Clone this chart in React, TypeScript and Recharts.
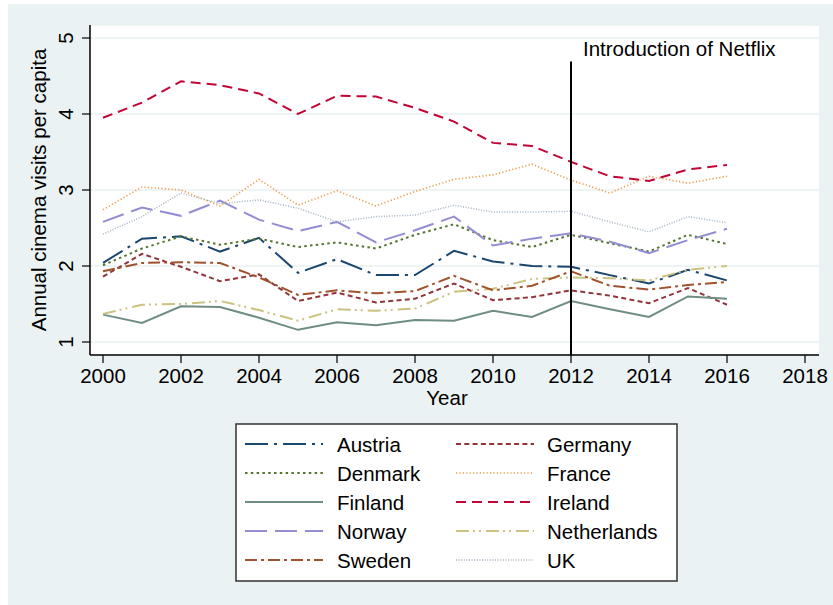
import { CartesianGrid, Line, LineChart, ReferenceLine, XAxis, YAxis } from 'recharts';

const years = [2000, 2001, 2002, 2003, 2004, 2005, 2006, 2007, 2008, 2009, 2010, 2011, 2012, 2013, 2014, 2015, 2016];
const xTicks = [2000, 2002, 2004, 2006, 2008, 2010, 2012, 2014, 2016, 2018];
const yTicks = [1, 2, 3, 4, 5];

const austria = [2.04, 2.36, 2.39, 2.19, 2.37, 1.91, 2.09, 1.88, 1.88, 2.2, 2.06, 2.0, 1.99, 1.88, 1.77, 1.95, 1.81];
const germany = [1.86, 2.16, 1.99, 1.8, 1.89, 1.54, 1.65, 1.52, 1.57, 1.77, 1.55, 1.59, 1.68, 1.61, 1.51, 1.71, 1.49];
const denmark = [2.01, 2.23, 2.39, 2.28, 2.36, 2.25, 2.31, 2.23, 2.41, 2.55, 2.34, 2.25, 2.41, 2.3, 2.19, 2.41, 2.29];
const france = [2.74, 3.04, 3.0, 2.79, 3.14, 2.8, 2.99, 2.79, 2.98, 3.14, 3.2, 3.34, 3.13, 2.96, 3.18, 3.09, 3.18];
const finland = [1.36, 1.25, 1.47, 1.46, 1.32, 1.16, 1.26, 1.22, 1.29, 1.28, 1.41, 1.33, 1.54, 1.43, 1.33, 1.6, 1.57];
const ireland = [3.95, 4.15, 4.43, 4.38, 4.27, 4.0, 4.24, 4.23, 4.08, 3.9, 3.62, 3.58, 3.37, 3.18, 3.12, 3.27, 3.33];
const norway = [2.58, 2.77, 2.66, 2.86, 2.61, 2.46, 2.58, 2.31, 2.47, 2.65, 2.27, 2.36, 2.43, 2.32, 2.17, 2.34, 2.49];
const netherlands = [1.37, 1.49, 1.5, 1.54, 1.42, 1.28, 1.43, 1.41, 1.44, 1.66, 1.7, 1.83, 1.85, 1.84, 1.81, 1.95, 2.0];
const sweden = [1.93, 2.04, 2.05, 2.04, 1.85, 1.62, 1.68, 1.64, 1.67, 1.87, 1.68, 1.74, 1.93, 1.74, 1.69, 1.75, 1.79];
const uk = [2.42, 2.65, 2.96, 2.82, 2.87, 2.76, 2.58, 2.65, 2.67, 2.8, 2.71, 2.71, 2.72, 2.58, 2.45, 2.65, 2.57];

const netflixYear = 2012;

// legend order is row by row: left column, right column
const series = [
  { name: 'Austria', values: austria, color: '#1a476f', dash: '23 6 3 6', width: 2 },
  { name: 'Germany', values: germany, color: '#90353b', dash: '5 3.3', width: 2 },
  { name: 'Denmark', values: denmark, color: '#55752f', dash: '2.5 3.3', width: 2 },
  { name: 'France', values: france, color: '#ee9a40', dash: '1.2 2.2', width: 1.6 },
  { name: 'Finland', values: finland, color: '#6e8e84', dash: undefined, width: 2 },
  { name: 'Ireland', values: ireland, color: '#c10534', dash: '10 6', width: 2 },
  { name: 'Norway', values: norway, color: '#938dd2', dash: '22 8', width: 2 },
  { name: 'Netherlands', values: netherlands, color: '#cac27e', dash: '13 4 2 4 2 5', width: 2 },
  { name: 'Sweden', values: sweden, color: '#a0522d', dash: '12 4 3 4', width: 2 },
  { name: 'UK', values: uk, color: '#a3b3c4', dash: '1 1.6', width: 1.5 },
];

const data = years.map((year, i) => {
  const row: Record<string, number> = { year };
  series.forEach((s) => {
    row[s.name] = s.values[i];
  });
  return row;
});

const font = '"Liberation Sans", Arial, Helvetica, sans-serif';
const fontSize = 20.5;

const XTick = (props: any) => {
  const { x, y, payload } = props;
  return (
    <text x={x} y={y} dy={18} textAnchor="middle" fontFamily={font} fontSize={fontSize} fill="#000">
      {payload.value}
    </text>
  );
};

const YTick = (props: any) => {
  const { x, y, payload } = props;
  const bx = x - 7;
  return (
    <text
      x={bx}
      y={y}
      textAnchor="middle"
      transform={`rotate(-90, ${bx}, ${y})`}
      fontFamily={font}
      fontSize={fontSize}
      fill="#000"
    >
      {payload.value}
    </text>
  );
};

const Overlay = () => {
  const boxX = 236;
  const boxY = 424;
  const rowY = [444, 473, 502, 531, 560];
  const swatchX = [245, 456];
  const textX = [337, 547];
  return (
    <svg
      width={833}
      height={605}
      style={{ position: 'absolute', left: 0, top: 0, pointerEvents: 'none' }}
    >
      <text
        x={46}
        y={190}
        textAnchor="middle"
        transform="rotate(-90, 46, 190)"
        fontFamily={font}
        fontSize={fontSize}
        fill="#000"
      >
        Annual cinema visits per capita
      </text>
      <text x={447} y={405} textAnchor="middle" fontFamily={font} fontSize={fontSize} fill="#000">
        Year
      </text>
      <text x={583} y={56} fontFamily={font} fontSize={fontSize} fill="#000">
        Introduction of Netflix
      </text>
      <rect x={boxX} y={boxY} width={441} height={157} fill="#fff" stroke="#333" strokeWidth={1.5} />
      {series.map((s, i) => {
        const col = i % 2;
        const row = Math.floor(i / 2);
        const cy = rowY[row];
        return (
          <g key={s.name}>
            <line
              x1={swatchX[col]}
              x2={swatchX[col] + 78}
              y1={cy}
              y2={cy}
              stroke={s.color}
              strokeWidth={s.width}
              strokeDasharray={s.dash}
            />
            <text x={textX[col]} y={cy + 7.5} fontFamily={font} fontSize={fontSize} fill="#000">
              {s.name}
            </text>
          </g>
        );
      })}
    </svg>
  );
};

export default function App() {
  return (
    <div style={{ position: 'absolute', left: 0, top: 0, width: 833, height: 605, background: '#fff' }}>
      <div style={{ position: 'absolute', left: 8, top: 4, width: 825, height: 601, background: '#eaf2f3' }} />
      <div style={{ position: 'absolute', left: 0, top: 0 }}>
        <LineChart
          width={833}
          height={605}
          data={data}
          margin={{ top: 25, right: 14, bottom: 210, left: 0 }}
        >
          <CartesianGrid vertical={false} fill="#fff" stroke="#e8eff1" strokeWidth={1.5} />
          <XAxis
            dataKey="year"
            type="number"
            domain={[2000, 2018]}
            ticks={xTicks}
            padding={{ left: 13, right: 14 }}
            height={40}
            tickSize={8}
            tick={<XTick />}
            axisLine={{ stroke: '#000', strokeWidth: 1.5 }}
            tickLine={{ stroke: '#000', strokeWidth: 1.2 }}
            interval={0}
          />
          <YAxis
            type="number"
            domain={[1, 5]}
            ticks={yTicks}
            padding={{ top: 13, bottom: 13 }}
            width={90}
            tickSize={8}
            tick={<YTick />}
            axisLine={{ stroke: '#000', strokeWidth: 1.5 }}
            tickLine={{ stroke: '#000', strokeWidth: 1.2 }}
            interval={0}
          />
          {series.map((s) => (
            <Line
              key={s.name}
              dataKey={s.name}
              type="linear"
              stroke={s.color}
              strokeWidth={s.width}
              strokeDasharray={s.dash}
              dot={false}
              activeDot={false}
              isAnimationActive={false}
            />
          ))}
          <ReferenceLine
            segment={[
              { x: netflixYear, y: 4.69 },
              { x: netflixYear, y: 0.825 },
            ]}
            stroke="#000"
            strokeWidth={2}
            ifOverflow="visible"
          />
        </LineChart>
      </div>
      <Overlay />
    </div>
  );
}
